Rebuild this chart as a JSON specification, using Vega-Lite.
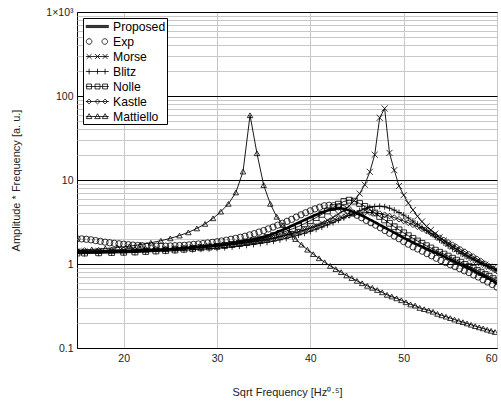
{
"$schema": "https://vega.github.io/schema/vega-lite/v6.json",
"width": 420, "height": 336,
"autosize": {"type": "none"},
"padding": {"left": 77, "top": 12, "right": 4, "bottom": 53},
"background": "white",
"config": {"view": {"stroke": "black", "strokeWidth": 1}, "font": "Liberation Sans"},
"datasets": {
"curves": [
{"s":"Exp","x":15,"y":2.00},{"s":"Exp","x":15.5,"y":1.99},{"s":"Exp","x":16,"y":1.97},{"s":"Exp","x":16.5,"y":1.94},{"s":"Exp","x":17,"y":1.90},{"s":"Exp","x":17.5,"y":1.86},{"s":"Exp","x":18,"y":1.82},{"s":"Exp","x":18.5,"y":1.79},{"s":"Exp","x":19,"y":1.76},{"s":"Exp","x":19.5,"y":1.74},{"s":"Exp","x":20,"y":1.72},{"s":"Exp","x":20.5,"y":1.70},{"s":"Exp","x":21,"y":1.68},{"s":"Exp","x":21.5,"y":1.66},{"s":"Exp","x":22,"y":1.65},{"s":"Exp","x":22.5,"y":1.64},{"s":"Exp","x":23,"y":1.64},{"s":"Exp","x":23.5,"y":1.63},{"s":"Exp","x":24,"y":1.63},{"s":"Exp","x":24.5,"y":1.63},{"s":"Exp","x":25,"y":1.64},{"s":"Exp","x":25.5,"y":1.65},{"s":"Exp","x":26,"y":1.66},{"s":"Exp","x":26.5,"y":1.67},{"s":"Exp","x":27,"y":1.69},{"s":"Exp","x":27.5,"y":1.71},{"s":"Exp","x":28,"y":1.73},{"s":"Exp","x":28.5,"y":1.75},{"s":"Exp","x":29,"y":1.78},{"s":"Exp","x":29.5,"y":1.81},{"s":"Exp","x":30,"y":1.84},{"s":"Exp","x":30.5,"y":1.88},{"s":"Exp","x":31,"y":1.92},{"s":"Exp","x":31.5,"y":1.97},{"s":"Exp","x":32,"y":2.02},{"s":"Exp","x":32.5,"y":2.08},{"s":"Exp","x":33,"y":2.14},{"s":"Exp","x":33.5,"y":2.22},{"s":"Exp","x":34,"y":2.30},{"s":"Exp","x":34.5,"y":2.40},{"s":"Exp","x":35,"y":2.50},{"s":"Exp","x":35.5,"y":2.62},{"s":"Exp","x":36,"y":2.75},{"s":"Exp","x":36.5,"y":2.90},{"s":"Exp","x":37,"y":3.05},{"s":"Exp","x":37.5,"y":3.22},{"s":"Exp","x":38,"y":3.40},{"s":"Exp","x":38.5,"y":3.62},{"s":"Exp","x":39,"y":3.85},{"s":"Exp","x":39.5,"y":4.08},{"s":"Exp","x":40,"y":4.30},{"s":"Exp","x":40.5,"y":4.53},{"s":"Exp","x":41,"y":4.75},{"s":"Exp","x":41.5,"y":4.93},{"s":"Exp","x":42,"y":5.00},{"s":"Exp","x":42.5,"y":4.95},{"s":"Exp","x":43,"y":4.80},{"s":"Exp","x":43.5,"y":4.57},{"s":"Exp","x":44,"y":4.30},{"s":"Exp","x":44.5,"y":4.05},{"s":"Exp","x":45,"y":3.80},{"s":"Exp","x":45.5,"y":3.55},{"s":"Exp","x":46,"y":3.30},{"s":"Exp","x":46.5,"y":3.10},{"s":"Exp","x":47,"y":2.90},{"s":"Exp","x":47.5,"y":2.70},{"s":"Exp","x":48,"y":2.50},{"s":"Exp","x":48.5,"y":2.32},{"s":"Exp","x":49,"y":2.15},{"s":"Exp","x":49.5,"y":2.00},{"s":"Exp","x":50,"y":1.85},{"s":"Exp","x":50.5,"y":1.72},{"s":"Exp","x":51,"y":1.60},{"s":"Exp","x":51.5,"y":1.51},{"s":"Exp","x":52,"y":1.42},{"s":"Exp","x":52.5,"y":1.33},{"s":"Exp","x":53,"y":1.25},{"s":"Exp","x":53.5,"y":1.17},{"s":"Exp","x":54,"y":1.10},{"s":"Exp","x":54.5,"y":1.04},{"s":"Exp","x":55,"y":0.98},{"s":"Exp","x":55.5,"y":0.93},{"s":"Exp","x":56,"y":0.88},{"s":"Exp","x":56.5,"y":0.83},{"s":"Exp","x":57,"y":0.79},{"s":"Exp","x":57.5,"y":0.74},{"s":"Exp","x":58,"y":0.70},{"s":"Exp","x":58.5,"y":0.65},{"s":"Exp","x":59,"y":0.61},{"s":"Exp","x":59.5,"y":0.57},{"s":"Exp","x":60,"y":0.53},

{"s":"Proposed","x":15.00,"y":1.40},{"s":"Proposed","x":15.81,"y":1.40},{"s":"Proposed","x":17.32,"y":1.40},{"s":"Proposed","x":18.71,"y":1.41},{"s":"Proposed","x":20.00,"y":1.42},{"s":"Proposed","x":21.21,"y":1.43},{"s":"Proposed","x":22.36,"y":1.45},{"s":"Proposed","x":23.45,"y":1.47},{"s":"Proposed","x":24.49,"y":1.49},{"s":"Proposed","x":25.50,"y":1.52},{"s":"Proposed","x":26.46,"y":1.55},{"s":"Proposed","x":27.39,"y":1.58},{"s":"Proposed","x":28.28,"y":1.61},{"s":"Proposed","x":29.15,"y":1.64},{"s":"Proposed","x":30.00,"y":1.68},{"s":"Proposed","x":30.82,"y":1.72},{"s":"Proposed","x":31.62,"y":1.77},{"s":"Proposed","x":32.40,"y":1.83},{"s":"Proposed","x":33.17,"y":1.90},{"s":"Proposed","x":33.91,"y":1.97},{"s":"Proposed","x":34.64,"y":2.05},{"s":"Proposed","x":35.36,"y":2.16},{"s":"Proposed","x":36.06,"y":2.30},{"s":"Proposed","x":36.74,"y":2.47},{"s":"Proposed","x":37.42,"y":2.65},{"s":"Proposed","x":38.08,"y":2.87},{"s":"Proposed","x":38.73,"y":3.10},{"s":"Proposed","x":39.37,"y":3.35},{"s":"Proposed","x":40.00,"y":3.60},{"s":"Proposed","x":40.62,"y":3.85},{"s":"Proposed","x":41.23,"y":4.10},{"s":"Proposed","x":41.83,"y":4.33},{"s":"Proposed","x":42.43,"y":4.50},{"s":"Proposed","x":43.01,"y":4.60},{"s":"Proposed","x":43.59,"y":4.55},{"s":"Proposed","x":44.16,"y":4.35},{"s":"Proposed","x":44.72,"y":4.12},{"s":"Proposed","x":45.28,"y":3.88},{"s":"Proposed","x":45.83,"y":3.63},{"s":"Proposed","x":46.37,"y":3.38},{"s":"Proposed","x":46.90,"y":3.15},{"s":"Proposed","x":47.43,"y":2.93},{"s":"Proposed","x":47.96,"y":2.72},{"s":"Proposed","x":48.48,"y":2.53},{"s":"Proposed","x":48.99,"y":2.36},{"s":"Proposed","x":49.50,"y":2.20},{"s":"Proposed","x":50.00,"y":2.05},{"s":"Proposed","x":50.50,"y":1.92},{"s":"Proposed","x":50.99,"y":1.80},{"s":"Proposed","x":51.48,"y":1.70},{"s":"Proposed","x":51.96,"y":1.61},{"s":"Proposed","x":52.44,"y":1.52},{"s":"Proposed","x":52.92,"y":1.44},{"s":"Proposed","x":53.39,"y":1.37},{"s":"Proposed","x":53.85,"y":1.30},{"s":"Proposed","x":54.31,"y":1.23},{"s":"Proposed","x":54.77,"y":1.16},{"s":"Proposed","x":55.23,"y":1.10},{"s":"Proposed","x":55.68,"y":1.04},{"s":"Proposed","x":56.12,"y":0.99},{"s":"Proposed","x":56.57,"y":0.94},{"s":"Proposed","x":57.01,"y":0.89},{"s":"Proposed","x":57.45,"y":0.84},{"s":"Proposed","x":57.88,"y":0.79},{"s":"Proposed","x":58.31,"y":0.75},{"s":"Proposed","x":58.74,"y":0.71},{"s":"Proposed","x":59.16,"y":0.67},{"s":"Proposed","x":59.58,"y":0.63},{"s":"Proposed","x":60.00,"y":0.59},

{"s":"Nolle","x":15.00,"y":1.35},{"s":"Nolle","x":15.81,"y":1.35},{"s":"Nolle","x":17.32,"y":1.36},{"s":"Nolle","x":18.71,"y":1.37},{"s":"Nolle","x":20.00,"y":1.38},{"s":"Nolle","x":21.21,"y":1.39},{"s":"Nolle","x":22.36,"y":1.41},{"s":"Nolle","x":23.45,"y":1.43},{"s":"Nolle","x":24.49,"y":1.45},{"s":"Nolle","x":25.50,"y":1.47},{"s":"Nolle","x":26.46,"y":1.50},{"s":"Nolle","x":27.39,"y":1.53},{"s":"Nolle","x":28.28,"y":1.56},{"s":"Nolle","x":29.15,"y":1.59},{"s":"Nolle","x":30.00,"y":1.62},{"s":"Nolle","x":30.82,"y":1.66},{"s":"Nolle","x":31.62,"y":1.71},{"s":"Nolle","x":32.40,"y":1.76},{"s":"Nolle","x":33.17,"y":1.82},{"s":"Nolle","x":33.91,"y":1.89},{"s":"Nolle","x":34.64,"y":1.97},{"s":"Nolle","x":35.36,"y":2.07},{"s":"Nolle","x":36.06,"y":2.18},{"s":"Nolle","x":36.74,"y":2.31},{"s":"Nolle","x":37.42,"y":2.46},{"s":"Nolle","x":38.08,"y":2.62},{"s":"Nolle","x":38.73,"y":2.80},{"s":"Nolle","x":39.37,"y":3.02},{"s":"Nolle","x":40.00,"y":3.28},{"s":"Nolle","x":40.62,"y":3.57},{"s":"Nolle","x":41.23,"y":3.90},{"s":"Nolle","x":41.83,"y":4.28},{"s":"Nolle","x":42.43,"y":4.70},{"s":"Nolle","x":43.01,"y":5.15},{"s":"Nolle","x":43.59,"y":5.55},{"s":"Nolle","x":44.16,"y":5.75},{"s":"Nolle","x":44.72,"y":5.60},{"s":"Nolle","x":45.28,"y":5.25},{"s":"Nolle","x":45.83,"y":4.85},{"s":"Nolle","x":46.37,"y":4.45},{"s":"Nolle","x":46.90,"y":4.05},{"s":"Nolle","x":47.43,"y":3.68},{"s":"Nolle","x":47.96,"y":3.35},{"s":"Nolle","x":48.48,"y":3.05},{"s":"Nolle","x":48.99,"y":2.78},{"s":"Nolle","x":49.50,"y":2.55},{"s":"Nolle","x":50.00,"y":2.35},{"s":"Nolle","x":50.50,"y":2.17},{"s":"Nolle","x":50.99,"y":2.02},{"s":"Nolle","x":51.48,"y":1.88},{"s":"Nolle","x":51.96,"y":1.76},{"s":"Nolle","x":52.44,"y":1.65},{"s":"Nolle","x":52.92,"y":1.55},{"s":"Nolle","x":53.39,"y":1.46},{"s":"Nolle","x":53.85,"y":1.38},{"s":"Nolle","x":54.31,"y":1.31},{"s":"Nolle","x":54.77,"y":1.24},{"s":"Nolle","x":55.23,"y":1.17},{"s":"Nolle","x":55.68,"y":1.11},{"s":"Nolle","x":56.12,"y":1.05},{"s":"Nolle","x":56.57,"y":0.99},{"s":"Nolle","x":57.01,"y":0.94},{"s":"Nolle","x":57.45,"y":0.89},{"s":"Nolle","x":57.88,"y":0.84},{"s":"Nolle","x":58.31,"y":0.79},{"s":"Nolle","x":58.74,"y":0.75},{"s":"Nolle","x":59.16,"y":0.71},{"s":"Nolle","x":59.58,"y":0.67},{"s":"Nolle","x":60.00,"y":0.63},

{"s":"Kastle","x":15.00,"y":1.45},{"s":"Kastle","x":15.81,"y":1.45},{"s":"Kastle","x":17.32,"y":1.46},{"s":"Kastle","x":18.71,"y":1.46},{"s":"Kastle","x":20.00,"y":1.47},{"s":"Kastle","x":21.21,"y":1.48},{"s":"Kastle","x":22.36,"y":1.49},{"s":"Kastle","x":23.45,"y":1.50},{"s":"Kastle","x":24.49,"y":1.51},{"s":"Kastle","x":25.50,"y":1.53},{"s":"Kastle","x":26.46,"y":1.55},{"s":"Kastle","x":27.39,"y":1.57},{"s":"Kastle","x":28.28,"y":1.59},{"s":"Kastle","x":29.15,"y":1.61},{"s":"Kastle","x":30.00,"y":1.63},{"s":"Kastle","x":30.82,"y":1.66},{"s":"Kastle","x":31.62,"y":1.70},{"s":"Kastle","x":32.40,"y":1.74},{"s":"Kastle","x":33.17,"y":1.79},{"s":"Kastle","x":33.91,"y":1.84},{"s":"Kastle","x":34.64,"y":1.89},{"s":"Kastle","x":35.36,"y":1.95},{"s":"Kastle","x":36.06,"y":2.02},{"s":"Kastle","x":36.74,"y":2.10},{"s":"Kastle","x":37.42,"y":2.20},{"s":"Kastle","x":38.08,"y":2.30},{"s":"Kastle","x":38.73,"y":2.42},{"s":"Kastle","x":39.37,"y":2.54},{"s":"Kastle","x":40.00,"y":2.66},{"s":"Kastle","x":40.62,"y":2.80},{"s":"Kastle","x":41.23,"y":2.95},{"s":"Kastle","x":41.83,"y":3.12},{"s":"Kastle","x":42.43,"y":3.30},{"s":"Kastle","x":43.01,"y":3.48},{"s":"Kastle","x":43.59,"y":3.65},{"s":"Kastle","x":44.16,"y":3.80},{"s":"Kastle","x":44.72,"y":3.93},{"s":"Kastle","x":45.28,"y":4.03},{"s":"Kastle","x":45.83,"y":4.09},{"s":"Kastle","x":46.37,"y":4.10},{"s":"Kastle","x":46.90,"y":4.06},{"s":"Kastle","x":47.43,"y":3.98},{"s":"Kastle","x":47.96,"y":3.86},{"s":"Kastle","x":48.48,"y":3.72},{"s":"Kastle","x":48.99,"y":3.57},{"s":"Kastle","x":49.50,"y":3.41},{"s":"Kastle","x":50.00,"y":3.25},{"s":"Kastle","x":50.50,"y":3.09},{"s":"Kastle","x":50.99,"y":2.93},{"s":"Kastle","x":51.48,"y":2.77},{"s":"Kastle","x":51.96,"y":2.62},{"s":"Kastle","x":52.44,"y":2.47},{"s":"Kastle","x":52.92,"y":2.33},{"s":"Kastle","x":53.39,"y":2.19},{"s":"Kastle","x":53.85,"y":2.06},{"s":"Kastle","x":54.31,"y":1.93},{"s":"Kastle","x":54.77,"y":1.81},{"s":"Kastle","x":55.23,"y":1.70},{"s":"Kastle","x":55.68,"y":1.59},{"s":"Kastle","x":56.12,"y":1.49},{"s":"Kastle","x":56.57,"y":1.40},{"s":"Kastle","x":57.01,"y":1.31},{"s":"Kastle","x":57.45,"y":1.23},{"s":"Kastle","x":57.88,"y":1.15},{"s":"Kastle","x":58.31,"y":1.08},{"s":"Kastle","x":58.74,"y":1.01},{"s":"Kastle","x":59.16,"y":0.94},{"s":"Kastle","x":59.58,"y":0.88},{"s":"Kastle","x":60.00,"y":0.82},

{"s":"Blitz","x":15.00,"y":1.33},{"s":"Blitz","x":15.81,"y":1.33},{"s":"Blitz","x":17.32,"y":1.34},{"s":"Blitz","x":18.71,"y":1.35},{"s":"Blitz","x":20.00,"y":1.36},{"s":"Blitz","x":21.21,"y":1.37},{"s":"Blitz","x":22.36,"y":1.39},{"s":"Blitz","x":23.45,"y":1.41},{"s":"Blitz","x":24.49,"y":1.42},{"s":"Blitz","x":25.50,"y":1.44},{"s":"Blitz","x":26.46,"y":1.46},{"s":"Blitz","x":27.39,"y":1.48},{"s":"Blitz","x":28.28,"y":1.50},{"s":"Blitz","x":29.15,"y":1.52},{"s":"Blitz","x":30.00,"y":1.54},{"s":"Blitz","x":30.82,"y":1.57},{"s":"Blitz","x":31.62,"y":1.60},{"s":"Blitz","x":32.40,"y":1.63},{"s":"Blitz","x":33.17,"y":1.67},{"s":"Blitz","x":33.91,"y":1.71},{"s":"Blitz","x":34.64,"y":1.76},{"s":"Blitz","x":35.36,"y":1.81},{"s":"Blitz","x":36.06,"y":1.87},{"s":"Blitz","x":36.74,"y":1.94},{"s":"Blitz","x":37.42,"y":2.02},{"s":"Blitz","x":38.08,"y":2.11},{"s":"Blitz","x":38.73,"y":2.21},{"s":"Blitz","x":39.37,"y":2.32},{"s":"Blitz","x":40.00,"y":2.45},{"s":"Blitz","x":40.62,"y":2.59},{"s":"Blitz","x":41.23,"y":2.75},{"s":"Blitz","x":41.83,"y":2.92},{"s":"Blitz","x":42.43,"y":3.11},{"s":"Blitz","x":43.01,"y":3.32},{"s":"Blitz","x":43.59,"y":3.55},{"s":"Blitz","x":44.16,"y":3.80},{"s":"Blitz","x":44.72,"y":4.06},{"s":"Blitz","x":45.28,"y":4.32},{"s":"Blitz","x":45.83,"y":4.55},{"s":"Blitz","x":46.37,"y":4.72},{"s":"Blitz","x":46.90,"y":4.83},{"s":"Blitz","x":47.43,"y":4.87},{"s":"Blitz","x":47.96,"y":4.80},{"s":"Blitz","x":48.48,"y":4.62},{"s":"Blitz","x":48.99,"y":4.38},{"s":"Blitz","x":49.50,"y":4.10},{"s":"Blitz","x":50.00,"y":3.82},{"s":"Blitz","x":50.50,"y":3.53},{"s":"Blitz","x":50.99,"y":3.25},{"s":"Blitz","x":51.48,"y":2.98},{"s":"Blitz","x":51.96,"y":2.73},{"s":"Blitz","x":52.44,"y":2.50},{"s":"Blitz","x":52.92,"y":2.29},{"s":"Blitz","x":53.39,"y":2.10},{"s":"Blitz","x":53.85,"y":1.93},{"s":"Blitz","x":54.31,"y":1.78},{"s":"Blitz","x":54.77,"y":1.64},{"s":"Blitz","x":55.23,"y":1.52},{"s":"Blitz","x":55.68,"y":1.42},{"s":"Blitz","x":56.12,"y":1.33},{"s":"Blitz","x":56.57,"y":1.25},{"s":"Blitz","x":57.01,"y":1.18},{"s":"Blitz","x":57.45,"y":1.12},{"s":"Blitz","x":57.88,"y":1.06},{"s":"Blitz","x":58.31,"y":1.01},{"s":"Blitz","x":58.74,"y":0.96},{"s":"Blitz","x":59.16,"y":0.92},{"s":"Blitz","x":59.58,"y":0.88},{"s":"Blitz","x":60.00,"y":0.84},

{"s":"Morse","x":15.00,"y":1.41},{"s":"Morse","x":15.81,"y":1.42},{"s":"Morse","x":17.32,"y":1.42},{"s":"Morse","x":18.71,"y":1.43},{"s":"Morse","x":20.00,"y":1.44},{"s":"Morse","x":21.21,"y":1.46},{"s":"Morse","x":22.36,"y":1.47},{"s":"Morse","x":23.45,"y":1.49},{"s":"Morse","x":24.49,"y":1.50},{"s":"Morse","x":25.50,"y":1.52},{"s":"Morse","x":26.46,"y":1.54},{"s":"Morse","x":27.39,"y":1.57},{"s":"Morse","x":28.28,"y":1.59},{"s":"Morse","x":29.15,"y":1.62},{"s":"Morse","x":30.00,"y":1.65},{"s":"Morse","x":30.82,"y":1.69},{"s":"Morse","x":31.62,"y":1.73},{"s":"Morse","x":32.40,"y":1.77},{"s":"Morse","x":33.17,"y":1.81},{"s":"Morse","x":33.91,"y":1.87},{"s":"Morse","x":34.64,"y":1.92},{"s":"Morse","x":35.36,"y":1.98},{"s":"Morse","x":36.06,"y":2.05},{"s":"Morse","x":36.74,"y":2.13},{"s":"Morse","x":37.42,"y":2.22},{"s":"Morse","x":38.08,"y":2.32},{"s":"Morse","x":38.73,"y":2.43},{"s":"Morse","x":39.37,"y":2.56},{"s":"Morse","x":40.00,"y":2.70},{"s":"Morse","x":40.62,"y":2.87},{"s":"Morse","x":41.23,"y":3.07},{"s":"Morse","x":41.83,"y":3.31},{"s":"Morse","x":42.43,"y":3.59},{"s":"Morse","x":43.01,"y":3.94},{"s":"Morse","x":43.59,"y":4.38},{"s":"Morse","x":44.16,"y":4.93},{"s":"Morse","x":44.72,"y":5.68},{"s":"Morse","x":45.28,"y":6.90},{"s":"Morse","x":45.83,"y":8.80},{"s":"Morse","x":46.37,"y":12.5},{"s":"Morse","x":46.90,"y":20.0},{"s":"Morse","x":47.43,"y":55},{"s":"Morse","x":47.96,"y":71},{"s":"Morse","x":48.48,"y":21},{"s":"Morse","x":48.99,"y":13.1},{"s":"Morse","x":49.50,"y":8.5},{"s":"Morse","x":50.00,"y":6.6},{"s":"Morse","x":50.50,"y":5.3},{"s":"Morse","x":50.99,"y":4.4},{"s":"Morse","x":51.48,"y":3.7},{"s":"Morse","x":51.96,"y":3.2},{"s":"Morse","x":52.44,"y":2.8},{"s":"Morse","x":52.92,"y":2.55},{"s":"Morse","x":53.39,"y":2.30},{"s":"Morse","x":53.85,"y":2.08},{"s":"Morse","x":54.31,"y":1.90},{"s":"Morse","x":54.77,"y":1.75},{"s":"Morse","x":55.23,"y":1.62},{"s":"Morse","x":55.68,"y":1.50},{"s":"Morse","x":56.12,"y":1.40},{"s":"Morse","x":56.57,"y":1.31},{"s":"Morse","x":57.01,"y":1.23},{"s":"Morse","x":57.45,"y":1.16},{"s":"Morse","x":57.88,"y":1.09},{"s":"Morse","x":58.31,"y":1.03},{"s":"Morse","x":58.74,"y":0.98},{"s":"Morse","x":59.16,"y":0.93},{"s":"Morse","x":59.58,"y":0.89},{"s":"Morse","x":60.00,"y":0.85},

{"s":"Mattiello","x":15.00,"y":1.46},{"s":"Mattiello","x":16.58,"y":1.49},{"s":"Mattiello","x":18.03,"y":1.53},{"s":"Mattiello","x":19.36,"y":1.57},{"s":"Mattiello","x":20.62,"y":1.63},{"s":"Mattiello","x":21.79,"y":1.70},{"s":"Mattiello","x":22.91,"y":1.79},{"s":"Mattiello","x":23.98,"y":1.89},{"s":"Mattiello","x":25.00,"y":2.02},{"s":"Mattiello","x":25.98,"y":2.18},{"s":"Mattiello","x":26.93,"y":2.38},{"s":"Mattiello","x":27.84,"y":2.65},{"s":"Mattiello","x":28.72,"y":3.00},{"s":"Mattiello","x":29.58,"y":3.50},{"s":"Mattiello","x":30.41,"y":4.20},{"s":"Mattiello","x":31.22,"y":5.20},{"s":"Mattiello","x":32.02,"y":7.10},{"s":"Mattiello","x":32.79,"y":12.6},{"s":"Mattiello","x":33.54,"y":59},{"s":"Mattiello","x":34.28,"y":20.8},{"s":"Mattiello","x":35.00,"y":8.7},{"s":"Mattiello","x":35.71,"y":5.2},{"s":"Mattiello","x":36.40,"y":3.65},{"s":"Mattiello","x":37.08,"y":2.90},{"s":"Mattiello","x":37.75,"y":2.36},{"s":"Mattiello","x":38.41,"y":1.98},{"s":"Mattiello","x":39.05,"y":1.70},{"s":"Mattiello","x":39.69,"y":1.48},{"s":"Mattiello","x":40.31,"y":1.31},{"s":"Mattiello","x":40.93,"y":1.17},{"s":"Mattiello","x":41.53,"y":1.05},{"s":"Mattiello","x":42.13,"y":0.95},{"s":"Mattiello","x":42.72,"y":0.87},{"s":"Mattiello","x":43.30,"y":0.80},{"s":"Mattiello","x":43.87,"y":0.73},{"s":"Mattiello","x":44.44,"y":0.68},{"s":"Mattiello","x":45.00,"y":0.63},{"s":"Mattiello","x":45.55,"y":0.59},{"s":"Mattiello","x":46.10,"y":0.55},{"s":"Mattiello","x":46.64,"y":0.52},{"s":"Mattiello","x":47.17,"y":0.49},{"s":"Mattiello","x":47.70,"y":0.46},{"s":"Mattiello","x":48.22,"y":0.43},{"s":"Mattiello","x":48.73,"y":0.41},{"s":"Mattiello","x":49.24,"y":0.39},{"s":"Mattiello","x":49.75,"y":0.37},{"s":"Mattiello","x":50.25,"y":0.35},{"s":"Mattiello","x":50.74,"y":0.33},{"s":"Mattiello","x":51.23,"y":0.32},{"s":"Mattiello","x":51.72,"y":0.30},{"s":"Mattiello","x":52.20,"y":0.29},{"s":"Mattiello","x":52.68,"y":0.28},{"s":"Mattiello","x":53.15,"y":0.27},{"s":"Mattiello","x":53.62,"y":0.255},{"s":"Mattiello","x":54.08,"y":0.245},{"s":"Mattiello","x":54.54,"y":0.236},{"s":"Mattiello","x":55.00,"y":0.227},{"s":"Mattiello","x":55.45,"y":0.218},{"s":"Mattiello","x":55.90,"y":0.210},{"s":"Mattiello","x":56.35,"y":0.203},{"s":"Mattiello","x":56.79,"y":0.196},{"s":"Mattiello","x":57.23,"y":0.189},{"s":"Mattiello","x":57.66,"y":0.182},{"s":"Mattiello","x":58.09,"y":0.176},{"s":"Mattiello","x":58.52,"y":0.171},{"s":"Mattiello","x":58.95,"y":0.165},{"s":"Mattiello","x":59.37,"y":0.160},{"s":"Mattiello","x":59.79,"y":0.155}
]
},
"data": {"name": "curves"},
"encoding": {
  "x": {"field": "x", "type": "quantitative",
    "scale": {"domain": [15, 60], "nice": false, "zero": false},
    "axis": {"values": [20, 30, 40, 50, 60], "title": "Sqrt Frequency [Hz⁰·⁵]", "grid": true, "gridColor": "#c8c8c8", "gridWidth": 1, "ticks": false, "domain": false, "labelPadding": 5, "labelFontSize": 10.5, "labelColor": "#222", "titleFontSize": 11, "titleFontWeight": "normal", "titleColor": "#222", "titlePadding": 23}},
  "y": {"field": "y", "type": "quantitative",
    "scale": {"type": "log", "domain": [0.1, 1000], "nice": false},
    "axis": {"values": [0.1,0.2,0.3,0.4,0.5,0.6,0.7,0.8,0.9,1,2,3,4,5,6,7,8,9,10,20,30,40,50,60,70,80,90,100,200,300,400,500,600,700,800,900,1000],
      "format": "~g",
      "labelExpr": "datum.value == 1000 ? '1×10³' : (indexof([0.1,1,10,100], datum.value) >= 0 ? datum.label : '')",
      "title": "Amplitude * Frequency [a. u.]", "grid": true,
      "gridColor": {"condition": {"test": "indexof([0.1,1,10,100,1000], datum.value) >= 0", "value": "black"}, "value": "#c8c8c8"},
      "ticks": false, "domain": false, "labelPadding": 4, "labelFontSize": 10.5, "labelColor": "#222", "labelOverlap": false,
      "titleFontSize": 11, "titleFontWeight": "normal", "titleColor": "#222", "titlePadding": 24}}
},
"layer": [
  {"transform": [{"filter": "datum.s != 'Exp' && datum.s != 'Proposed'"}],
   "mark": {"type": "line", "color": "black", "strokeWidth": 0.9, "clip": true},
   "encoding": {"detail": {"field": "s", "type": "nominal"}}},
  {"transform": [{"filter": "datum.s == 'Proposed'"}],
   "mark": {"type": "line", "color": "black", "strokeWidth": 2.6, "clip": true},
   "encoding": {}},
  {"transform": [{"filter": "datum.s != 'Proposed'"}],
   "mark": {"type": "point", "filled": false, "color": "black", "strokeWidth": 0.8, "opacity": 1, "clip": true},
   "encoding": {
     "shape": {"field": "s", "type": "nominal", "legend": null,
       "scale": {"domain": ["Exp","Morse","Blitz","Nolle","Kastle","Mattiello"],
                 "range": ["circle","M-1,-1L1,1M-1,1L1,-1","M-1,0H1M0,-1V1","square","diamond","triangle-up"]}},
     "size": {"field": "s", "type": "nominal", "legend": null,
       "scale": {"domain": ["Exp","Morse","Blitz","Nolle","Kastle","Mattiello"], "range": [40, 30, 36, 34, 30, 40]}}
   }},
  {"transform": [{"filter": "false"}],
   "mark": {"type": "point", "filled": false, "color": "black"},
   "encoding": {
     "shape": {"field": "s", "type": "nominal",
       "scale": {"domain": ["Proposed","Exp","Morse","Blitz","Nolle","Kastle","Mattiello"],
         "range": [
           "M-0.81,-0.15H2.47M-0.81,-0.05H2.47M-0.81,0.05H2.47M-0.81,0.15H2.47",
           "M-0.74,0A0.4,0.4,0,1,0,0.06,0A0.4,0.4,0,1,0,-0.74,0ZM1.5,0A0.4,0.4,0,1,0,2.3,0A0.4,0.4,0,1,0,1.5,0Z",
           "M-0.81,0H2.47M-0.69,-0.35L0.01,0.35M-0.69,0.35L0.01,-0.35M0.51,-0.35L1.21,0.35M0.51,0.35L1.21,-0.35M1.59,-0.35L2.29,0.35M1.59,0.35L2.29,-0.35",
           "M-0.81,0H2.47M-0.34,-0.4V0.4M0.86,-0.4V0.4M1.94,-0.4V0.4",
           "M-0.81,0H2.47M-0.69,-0.35H0.01V0.35H-0.69ZM0.51,-0.35H1.21V0.35H0.51ZM1.59,-0.35H2.29V0.35H1.59Z",
           "M-0.81,0H2.47M-0.34,-0.35L0.01,0L-0.34,0.35L-0.69,0ZM0.86,-0.35L1.21,0L0.86,0.35L0.51,0ZM1.94,-0.35L2.29,0L1.94,0.35L1.59,0Z",
           "M-0.81,0H2.47M-0.34,-0.4L0.06,0.3H-0.74ZM0.86,-0.4L1.26,0.3H0.46ZM1.94,-0.4L2.34,0.3H1.54Z"
         ]},
       "legend": {"orient": "top-left", "offset": 6, "title": null, "padding": 1,
         "strokeColor": "black", "fillColor": "white",
         "symbolSize": 196, "symbolStrokeWidth": 0.8, "symbolStrokeColor": "black", "symbolFillColor": "transparent", "symbolOpacity": 1,
         "labelFont": "Liberation Sans", "labelFontSize": 12.2, "labelColor": "black", "labelOffset": 14, "rowPadding": 1,
         "labelExpr": "datum.label + '\u00a0\u00a0\u00a0'"}}
   }}
],
"resolve": {"scale": {"shape": "independent"}}
}
